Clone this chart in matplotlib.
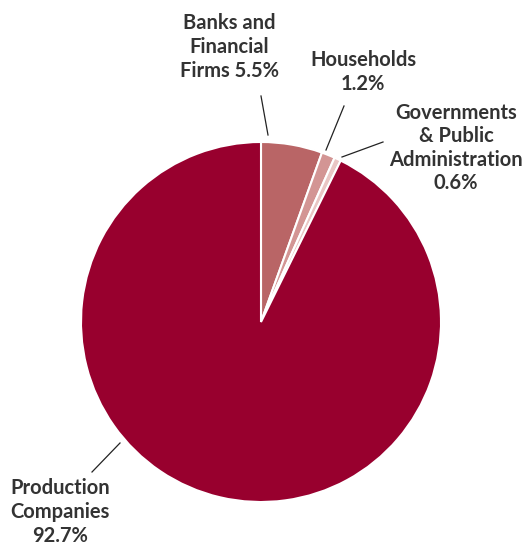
import matplotlib.pyplot as plt

sectors = ['Production\nCompanies', 'Banks and\nFinancial\nFirms', 'Households', 'Governments\n& Public\nAdministration']
shares = [92.7, 5.5, 1.2, 0.6]
colors = ['#98002e', '#b96566', '#d39594', '#e9c6c4']

W, H = 524, 545
fig = plt.figure(figsize=(W / 100, H / 100), dpi=100)
ax = fig.add_axes([0, 0, 1, 1])

cx, cy, r = 261, H - 322, 180
# start at 12 o'clock with the small slices, going clockwise
order = [1, 2, 3, 0]
ax.pie([shares[i] for i in order], colors=[colors[i] for i in order],
       startangle=90, counterclock=False, center=(cx, cy), radius=r,
       wedgeprops=dict(edgecolor='white', linewidth=1.5))

font = dict(family=['Lato', 'DejaVu Sans'], fontweight='bold', fontsize=14.5,
            color='#333333', ha='center', va='center', linespacing=1.22)

def label(i, text_xy, line):
    text = f'{sectors[i]} {shares[i]}%' if i == 1 else f'{sectors[i]}\n{shares[i]}%'
    ax.text(text_xy[0], H - text_xy[1], text, **font)
    (x0, y0), (x1, y1) = line
    ax.plot([x0, x1], [H - y0, H - y1], color='#222222', lw=0.9)

label(1, (229, 47), ((261, 96), (268, 135)))
label(2, (363, 72), ((344, 106), (326, 150)))
label(3, (456, 148), ((383, 142), (342, 157)))
label(0, (60, 512), ((92, 472), (120, 443)))

ax.set_xlim(0, W)
ax.set_ylim(0, H)
ax.set_aspect('equal')
ax.axis('off')

fig.savefig('out.png', dpi=100)
